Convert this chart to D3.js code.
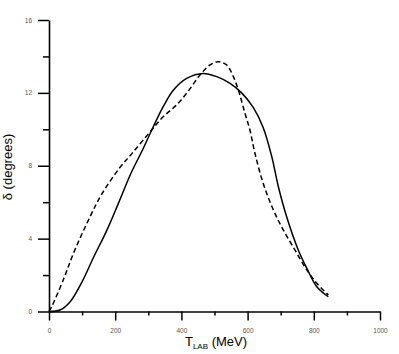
<!DOCTYPE html>
<html>
<head>
<meta charset="utf-8">
<script src="https://cdn.jsdelivr.net/npm/d3@7"></script>
<style>
  body { margin: 0; background: #fff; }
  svg { display: block; }
  .tick text { font-family: "Liberation Sans", Arial, sans-serif; font-size: 6.5px; fill: #555; }
  .axis-title { font-family: "Liberation Sans", Arial, sans-serif; fill: #000; }
</style>
</head>
<body>
<div class="plot"></div>
<script>
// solid curve (T_LAB in MeV, delta in degrees)
var solidT = [0, 33, 64, 99, 134, 175, 210, 248, 285, 315, 345, 376, 416, 466, 507, 547, 582, 617, 647, 673, 693, 718, 753, 779, 809, 844];
var solidD = [0, 0.08, 0.54, 1.6, 2.95, 4.47, 5.95, 7.6, 8.96, 10.14, 11.24, 12.16, 12.8, 13.07, 12.89, 12.52, 12.0, 11.2, 10.1, 8.5, 6.85, 5.2, 3.38, 2.37, 1.36, 0.81];

// dashed curve
var dashT = [0, 8, 43, 74, 124, 158, 212, 251, 310, 345, 386, 421, 456, 486, 511, 537, 557, 572, 592, 607, 622, 647, 678, 708, 743, 779, 809, 844];
var dashD = [0, 0.26, 1.73, 3.2, 5.2, 6.4, 7.85, 8.68, 9.96, 10.69, 11.35, 12.1, 12.98, 13.53, 13.71, 13.53, 12.89, 12.16, 10.88, 9.96, 8.7, 7.04, 5.57, 4.47, 3.38, 2.28, 1.55, 0.91];

// ticks
var xMajor = [0, 200, 400, 600, 800, 1000];
var xMinor = [100, 300, 500, 700, 900];
var yMajor = [0, 4, 8, 12, 16];
var yMinor = [2, 6, 10, 14];

var width = 399, height = 354;

var svg = d3.select(".plot")
  .append("svg")
  .attr("width", width)
  .attr("height", height);

var xScale = d3.scaleLinear().domain([0, 1000]).range([49, 380]);
var yScale = d3.scaleLinear().domain([0, 16]).range([311.5, 20]);

// minor ticks first (no labels)
svg.append("g")
  .attr("transform", "translate(0," + yScale(0) + ")")
  .call(d3.axisBottom(xScale).tickValues(xMinor).tickSize(4).tickFormat(""))
  .call(function (g) { g.select(".domain").remove(); })
  .selectAll("line").attr("stroke-width", 1.5);

svg.append("g")
  .attr("transform", "translate(" + xScale(0) + ",0)")
  .call(d3.axisLeft(yScale).tickValues(yMinor).tickSize(6).tickFormat(""))
  .call(function (g) { g.select(".domain").remove(); })
  .selectAll("line").attr("stroke-width", 1.5);

// major ticks + axis lines
var xAxis = svg.append("g")
  .attr("transform", "translate(0," + yScale(0) + ")")
  .call(d3.axisBottom(xScale).tickValues(xMajor).tickSize(9).tickSizeOuter(0).tickPadding(8).tickFormat(d3.format("d")));
xAxis.select(".domain").attr("stroke-width", 1.6);
xAxis.selectAll("line").attr("stroke-width", 1.5);

var yAxis = svg.append("g")
  .attr("transform", "translate(" + xScale(0) + ",0)")
  .call(d3.axisLeft(yScale).tickValues(yMajor).tickSize(11).tickSizeOuter(0).tickPadding(6).tickFormat(d3.format("d")));
yAxis.select(".domain").attr("stroke-width", 1.6);
yAxis.selectAll("line").attr("stroke-width", 1.5);

// axis titles
var xt = svg.append("text")
  .attr("class", "axis-title")
  .attr("x", 216)
  .attr("y", 346)
  .attr("text-anchor", "middle")
  .style("font-size", "13px");
xt.append("tspan").text("T");
xt.append("tspan").attr("dy", 3).style("font-size", "8px").text("LAB");
xt.append("tspan").attr("dy", -3).text(" (MeV)");

svg.append("text")
  .attr("class", "axis-title")
  .attr("transform", "rotate(-90)")
  .attr("x", -167)
  .attr("y", 12)
  .attr("text-anchor", "middle")
  .style("font-size", "13px")
  .text("δ (degrees)");

// curves
var line = d3.line()
  .x(function (d) { return xScale(d[0]); })
  .y(function (d) { return yScale(d[1]); })
  .curve(d3.curveCatmullRom);

var solidData = solidT.map(function (t, i) { return [t, solidD[i]]; });
var dashData = dashT.map(function (t, i) { return [t, dashD[i]]; });

svg.append("path")
  .datum(solidData)
  .attr("d", line)
  .style("fill", "none")
  .style("stroke", "#000")
  .style("stroke-width", 1.5);

svg.append("path")
  .datum(dashData)
  .attr("d", line)
  .style("fill", "none")
  .style("stroke", "#000")
  .style("stroke-width", 1.5)
  .style("stroke-dasharray", "5,3");
</script>
</body>
</html>
